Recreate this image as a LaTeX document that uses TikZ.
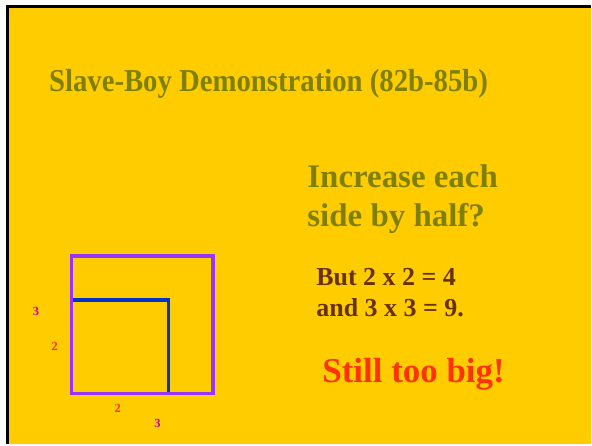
\documentclass[tikz,border=0pt]{standalone}
\usepackage{fontspec}
\setmainfont{Liberation Serif}
\newfontfamily\titlefont[FakeStretch=0.9]{Liberation Serif}
\usepackage{tikz}
\usetikzlibrary{positioning}
\definecolor{SlideGold}{RGB}{255,204,0}
\definecolor{TitleOlive}{RGB}{128,128,0}
\definecolor{ProductBrown}{RGB}{102,51,0}
\definecolor{AlarmRed}{RGB}{255,51,0}
\definecolor{SideMagenta}{RGB}{204,0,170}
\definecolor{SmallBlue}{RGB}{0,51,204}
\definecolor{BigPurple}{RGB}{153,51,255}

\begin{document}
\begin{tikzpicture}[
  x=1pt, y=-1pt,
  txt/.style={
    anchor=base west,
    inner sep=0pt,
    align=left,
    font=\bfseries
  },
  side/.style={
    inner sep=0pt,
    font=\fontsize{12.5}{14}\selectfont\bfseries
  },
  sq/.style={line width=3.6pt, line cap=rect}
]
% slide background and frame
\fill[white] (0,0) rectangle (592,445);
\fill[SlideGold] (7.5,6.5) rectangle (592,445);
\draw[line width=3pt] (7.5,445) -- (7.5,6.5) -- (592,6.5);

\node[txt, text=TitleOlive, font=\titlefont\fontsize{32}{36}\selectfont\bfseries]
  (title) at (49,92) {Slave-Boy Demonstration (82b-85b)};

% base of a two-line node is the baseline of its last line
\node[txt, text=TitleOlive, font=\fontsize{33}{39}\selectfont\bfseries]
  (question) at (308,227) {Increase each\\side by half?};
\node[txt, text=ProductBrown, font=\fontsize{26}{31}\selectfont\bfseries]
  (products) at (317,317) {But 2 x 2 = 4\\and 3 x 3 = 9.};
\node[txt, text=AlarmRed, font=\fontsize{35}{40}\selectfont\bfseries]
  (verdict) at (323,383) {Still too big!};

% the two squares
\draw[sq, SmallBlue] (71.5,301) rectangle (169,394.5);
\draw[sq, BigPurple] (71.5,256.5) rectangle (213.7,394.5);

\node[side, text=SideMagenta] (bigleft) at (36,312) {3};
\node[side, text=AlarmRed] (smallleft) at (55,347) {2};
\node[side, text=AlarmRed] (smallbottom) at (118,409) {2};
\node[side, text=SideMagenta] (bigbottom) at (158,425) {3};
\end{tikzpicture}
\end{document}
